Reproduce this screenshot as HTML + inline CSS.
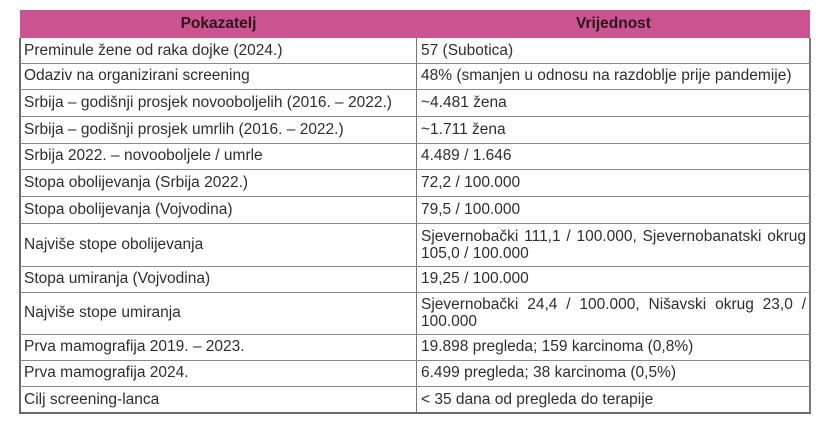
<!DOCTYPE html>
<html><head><meta charset="utf-8">
<style>
html,body{margin:0;padding:0;background:#fff;width:825px;height:424px;overflow:hidden;}
body{position:relative;font-family:"Liberation Sans",Arial,sans-serif;font-size:15.5px;color:#2e2e2e;}
.hdr{position:absolute;top:10px;height:28px;background:#cb5490;}
.h{position:absolute;top:10px;height:28px;line-height:28px;text-align:center;font-weight:bold;color:#2a1520;}
.hl{position:absolute;left:20px;width:790px;height:1px;background:#8a8a8a;}
.c{position:absolute;display:flex;align-items:center;box-sizing:border-box;padding:0 4px;white-space:nowrap;}
.c.w{white-space:normal;text-align:justify;text-align-last:left;line-height:17px;}
</style></head><body>
<div class="hdr" style="left:20px;width:790px;"></div>
<div class="h" style="left:20px;width:397px;">Pokazatelj</div>
<div class="h" style="left:417px;width:393px;">Vrijednost</div>

<!-- outer borders -->
<div style="position:absolute;left:19px;top:38px;width:2px;height:376px;background:#6a6a6a;"></div>
<div style="position:absolute;left:809px;top:38px;width:1.5px;height:376px;background:#7a7a7a;"></div>
<div style="position:absolute;left:19px;top:412px;width:792px;height:2px;background:#6a6a6a;"></div>
<!-- divider -->
<div style="position:absolute;left:416px;top:38px;width:1.2px;height:375px;background:#777;"></div>

<!-- horizontal lines -->
<div class="hl" style="top:63px"></div>
<div class="hl" style="top:89px"></div>
<div class="hl" style="top:116px"></div>
<div class="hl" style="top:143px"></div>
<div class="hl" style="top:169px"></div>
<div class="hl" style="top:196px"></div>
<div class="hl" style="top:223px"></div>
<div class="hl" style="top:266px"></div>
<div class="hl" style="top:292px"></div>
<div class="hl" style="top:334px"></div>
<div class="hl" style="top:360px"></div>
<div class="hl" style="top:386px"></div>

<!-- left column -->
<div class="c" style="left:20px;width:397px;top:38px;height:25px;">Preminule žene od raka dojke (2024.)</div>
<div class="c" style="left:20px;width:397px;top:63px;height:26px;">Odaziv na organizirani screening</div>
<div class="c" style="left:20px;width:397px;top:89px;height:27px;">Srbija – godišnji prosjek novooboljelih (2016. – 2022.)</div>
<div class="c" style="left:20px;width:397px;top:116px;height:27px;">Srbija – godišnji prosjek umrlih (2016. – 2022.)</div>
<div class="c" style="left:20px;width:397px;top:143px;height:26px;">Srbija 2022. – novooboljele / umrle</div>
<div class="c" style="left:20px;width:397px;top:169px;height:27px;">Stopa obolijevanja (Srbija 2022.)</div>
<div class="c" style="left:20px;width:397px;top:196px;height:27px;">Stopa obolijevanja (Vojvodina)</div>
<div class="c" style="left:20px;width:397px;top:223px;height:43px;">Najviše stope obolijevanja</div>
<div class="c" style="left:20px;width:397px;top:266px;height:26px;">Stopa umiranja (Vojvodina)</div>
<div class="c" style="left:20px;width:397px;top:292px;height:42px;">Najviše stope umiranja</div>
<div class="c" style="left:20px;width:397px;top:334px;height:26px;">Prva mamografija 2019. – 2023.</div>
<div class="c" style="left:20px;width:397px;top:360px;height:26px;">Prva mamografija 2024.</div>
<div class="c" style="left:20px;width:397px;top:386px;height:27px;">Cilj screening-lanca</div>

<!-- right column -->
<div class="c" style="left:417px;width:393px;top:38px;height:25px;">57 (Subotica)</div>
<div class="c" style="left:417px;width:393px;top:63px;height:26px;">48% (smanjen u odnosu na razdoblje prije pandemije)</div>
<div class="c" style="left:417px;width:393px;top:89px;height:27px;">~4.481 žena</div>
<div class="c" style="left:417px;width:393px;top:116px;height:27px;">~1.711 žena</div>
<div class="c" style="left:417px;width:393px;top:143px;height:26px;">4.489 / 1.646</div>
<div class="c" style="left:417px;width:393px;top:169px;height:27px;">72,2 / 100.000</div>
<div class="c" style="left:417px;width:393px;top:196px;height:27px;">79,5 / 100.000</div>
<div class="c w" style="left:417px;width:393px;top:223px;height:43px;"><div style="width:100%">Sjevernobački 111,1 / 100.000, Sjevernobanatski okrug 105,0 / 100.000</div></div>
<div class="c" style="left:417px;width:393px;top:266px;height:26px;">19,25 / 100.000</div>
<div class="c w" style="left:417px;width:393px;top:292px;height:42px;"><div style="width:100%">Sjevernobački 24,4 / 100.000, Nišavski okrug 23,0 / 100.000</div></div>
<div class="c" style="left:417px;width:393px;top:334px;height:26px;">19.898 pregleda; 159 karcinoma (0,8%)</div>
<div class="c" style="left:417px;width:393px;top:360px;height:26px;">6.499 pregleda; 38 karcinoma (0,5%)</div>
<div class="c" style="left:417px;width:393px;top:386px;height:27px;">&lt; 35 dana od pregleda do terapije</div>
</body></html>
